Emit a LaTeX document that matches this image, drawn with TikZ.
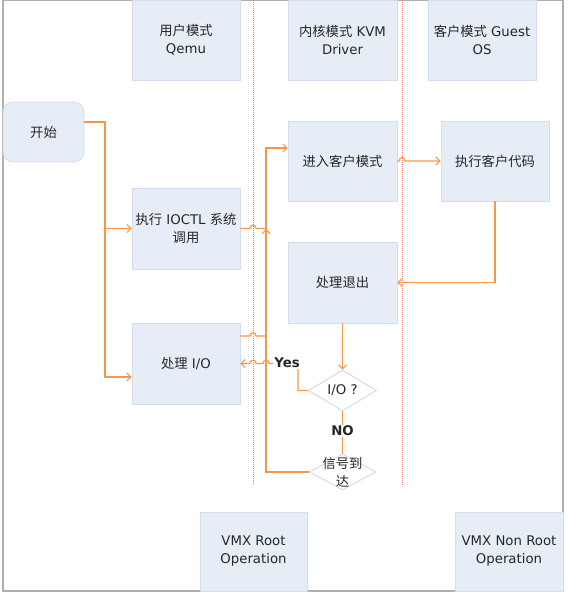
\documentclass[tikz,border=0pt]{standalone}
\usepackage{fontspec}
\setmainfont{DejaVu Sans}
\newfontfamily\cjk{Noto Sans CJK SC}
\usetikzlibrary{arrows.meta,shapes.geometric}
\definecolor{boxfill}{RGB}{231,237,247}
\definecolor{boxline}{RGB}{210,221,237}
\definecolor{orangec}{RGB}{247,150,70}
\definecolor{lanec}{RGB}{232,128,118}
\definecolor{framec}{RGB}{175,175,175}
\definecolor{diac}{RGB}{200,214,234}
\begin{document}
\begin{tikzpicture}[x=1pt,y=-1pt,
  every node/.style={font=\fontsize{13.3}{18}\selectfont, text=black!85},
  box/.style={draw=boxline, fill=boxfill, line width=0.8pt, minimum width=108pt,
    minimum height=80pt, inner sep=0pt, align=center},
  dia/.style={diamond, draw=diac, fill=white, line width=0.8pt, inner sep=0pt,
    aspect=1.7, minimum width=68pt, minimum height=41pt, align=center},
  lbl/.style={align=center, inner sep=1pt},
  conn/.style={draw=orangec, line width=1.1pt},
  arr/.style={conn, -{Straight Barb[length=4pt,width=8pt]}},
  lane/.style={draw=lanec, line width=0.8pt, dash pattern=on 1pt off 1pt}]
\useasboundingbox (0,0) rectangle (567,593);
% frame
\draw[framec, line width=1.5pt] (3,0.75) rectangle (563,591);
% swimlane separators
\draw[lane] (253,0) -- (253,485);
\draw[lane] (402,0) -- (402,485);
% boxes
\node[box] (qemu) at (186,40) {{\cjk 用户模式}\\Qemu};
\node[box, minimum width=109pt] (kvm) at (342.5,40) {{\cjk 内核模式} KVM\\Driver};
\node[box] (guest) at (482,40) {{\cjk 客户模式} Guest\\OS};
\node[box, minimum width=81pt, minimum height=60pt, rounded corners=10pt] (start) at (43.5,132) {\cjk 开始};
\node[box, minimum width=109pt] (enter) at (342.5,161) {\cjk 进入客户模式};
\node[box] (exec) at (495,161) {\cjk 执行客户代码};
\node[box, minimum height=81pt] (ioctl) at (186,228.5) {{\cjk 执行} IOCTL {\cjk 系统}\\{\cjk 调用}};
\node[box, minimum width=109pt, minimum height=81pt] (exit) at (342.5,282.5) {\cjk 处理退出};
\node[box, minimum height=81pt] (io) at (186,363.5) {{\cjk 处理} I/O};
\node[dia] (dio) at (342.5,390.5) {I/O ?};
\node[dia, minimum width=66pt, minimum height=36pt] (dsig) at (342.5,472) {};
\node[box, minimum width=107pt, minimum height=79pt] (vmxr) at (253.5,551.5) {VMX Root\\Operation};
\node[box, minimum width=108pt, minimum height=79pt] (vmxn) at (509,551.5) {VMX Non Root\\Operation};
% connectors
\draw[arr] ([yshift=10pt]start.east) -- (105,122) |- ([yshift=-13.5pt]io.west);
\draw[arr] (105,228.5) -- (ioctl.west);
\draw[conn] (ioctl.east) -- (250,228.5) .. controls (250,224) and (256,224) .. (256,228.5) -- (266,228.5);
\draw[arr] (266,234) -- (266,229);
\draw[conn] ([yshift=27.5pt]io.east) -- (250,336) .. controls (250,331.5) and (256,331.5) .. (256,336) -- (266,336);
\draw[arr] (dsig.west) -- (266,472) |- ([yshift=13pt]enter.west);
\draw[arr] (enter.east) -- (399,161) .. controls (399,156.5) and (405,156.5) .. (405,161) -- (exec.west);
\draw[arr] (exec.south) |- (exit.east);
\draw[arr] (exit.south) -- (dio.north);
\draw[arr] (dio.west) -- (298,390.5) -- (298,363.5) -- (269,363.5)
  .. controls (269,359) and (263,359) .. (263,363.5) -- (256,363.5)
  .. controls (256,359) and (250,359) .. (250,363.5) -- (io.east);
\draw[conn] (dio.south) -- (dsig.north);
% labels
\node[lbl, fill=white, font=\fontsize{13.3}{18}\selectfont\bfseries] (yes) at (287,363) {Yes};
\node[lbl, fill=white, font=\fontsize{13.3}{18}\selectfont\bfseries] (no) at (342.5,431) {NO};
\node[lbl] (dsigtext) at (dsig.center) {{\cjk 信号到}\\{\cjk 达}};
\end{tikzpicture}
\end{document}
